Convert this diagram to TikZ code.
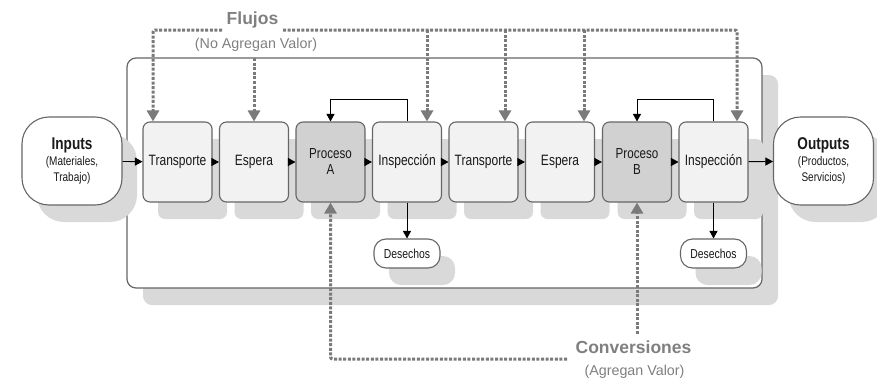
\documentclass[tikz,border=0pt]{standalone}
\usepackage{fontspec}
\setmainfont{Liberation Sans}
\newfontfamily\narrowsans[FakeStretch=0.8]{Liberation Sans}
\usetikzlibrary{arrows.meta,shadows}
\def\fsz#1{\fontsize{#1}{#1}\selectfont}

\tikzset{
	boxshadow/.style={general shadow={fill=black!15, shadow xshift=15pt, shadow yshift=-17pt}},
	stepbox/.style={boxshadow, draw=black!60, line width=1.1pt, fill=black!5, rounded corners=7pt,
		minimum width=69pt, minimum height=80pt, inner sep=0pt, align=center,
		text=black!90, font=\narrowsans\fsz{15}},
	procbox/.style={stepbox, fill=black!18, font=\narrowsans\fontsize{14.5}{16}\selectfont},
	endbox/.style={boxshadow, draw=black!60, line width=1.1pt, fill=white, rounded corners=27pt,
		minimum width=100pt, minimum height=88pt, inner sep=0pt, align=center, text=black!90},
	wastebox/.style={boxshadow, draw=black!60, line width=1.1pt, fill=white, rounded corners=12pt,
		minimum width=66pt, minimum height=29pt, inner sep=0pt, text=black!90, font=\narrowsans\fsz{13}},
	link/.style={draw=black, line width=0.9pt, -{Triangle[length=7.5pt,width=8pt]}},
	flow/.style={draw=black!52, line width=3pt, dash pattern=on 3pt off 1.6pt, rounded corners=2pt,
		-{Triangle[length=11pt,width=12pt]}},
	flowtitle/.style={text=black!50, font=\bfseries\fsz{17.5}, inner sep=0pt},
	flowsub/.style={text=black!50, font=\fsz{14.3}, inner sep=0pt}
}

\begin{document}
\begin{tikzpicture}[x=1pt, y=-1pt]
	%%%%% START %%%%%
	\useasboundingbox[fill=white] (0,0) rectangle (877,383);
	
	% marco del sistema
	\fill[black!15, rounded corners=9pt] (143,75) rectangle (778,305);
	\draw[draw=black!60, line width=1.2pt, fill=white, rounded corners=9pt] (127,58) rectangle (762,288);
	
	% entradas y salidas
	\node[endbox] (inp) at (72,161) {{\narrowsans\bfseries\fsz{17}Inputs}\\[3pt]
		{\narrowsans\fsz{12.5}(Materiales,}\\[4pt]{\narrowsans\fsz{12.5}Trabajo)}};
	\node[endbox] (out) at (823.5,161) {{\narrowsans\bfseries\fsz{17}Outputs}\\[3pt]
		{\narrowsans\fsz{12.5}(Productos,}\\[4pt]{\narrowsans\fsz{12.5}Servicios)}};
	
	% etapas
	\node[stepbox] (tr1) at (177.5,162) {Transporte};
	\node[stepbox] (es1) at (254,162) {Espera};
	\node[procbox] (pa) at (330.5,162) {Proceso\\A};
	\node[stepbox] (in1) at (407,162) {Inspecci\'on};
	\node[stepbox] (tr2) at (483.5,162) {Transporte};
	\node[stepbox] (es2) at (560,162) {Espera};
	\node[procbox] (pb) at (637,162) {Proceso\\B};
	\node[stepbox] (in2) at (713.5,162) {Inspecci\'on};
	
	\node[wastebox] (de1) at (407,253.5) {Desechos};
	\node[wastebox] (de2) at (713.5,253.5) {Desechos};
	
	% flujo principal
	\draw[link] (inp) -- (tr1);
	\draw[link] (tr1) -- (es1);
	\draw[link] (es1) -- (pa);
	\draw[link] (pa) -- (in1);
	\draw[link] (in1) -- (tr2);
	\draw[link] (tr2) -- (es2);
	\draw[link] (es2) -- (pb);
	\draw[link] (pb) -- (in2);
	\draw[link] (in2) -- (out);
	
	\draw[link] (in1.north) -- ++(0,-22) -| (pa.north);
	\draw[link] (in2.north) -- ++(0,-22) -| (pb.north);
	\draw[link] (in1.south) -- (de1.north);
	\draw[link] (in2.south) -- (de2.north);
	
	% flujos (no agregan valor)
	\node[flowtitle] (flujos) at (252.5,20) {Flujos};
	\node[flowsub] (noag) at (256,45) {(No Agregan Valor)};
	\coordinate (fl) at (222,30);
	\coordinate (fr) at (283,30);
	\coordinate (ftop) at (0,58);
	\coordinate (d1) at ([xshift=20pt]in1.north);
	\coordinate (d2) at ([xshift=21.5pt]tr2.north);
	\coordinate (d3) at ([xshift=24pt]es2.north);
	
	\draw[flow] (fl) -| ([xshift=-24.5pt]tr1.north);
	\draw[flow] (fr) -| ([xshift=23.5pt]in2.north);
	\draw[flow] (es1.north |- ftop) -- (es1.north);
	\draw[flow] (d1 |- fr) -- (d1);
	\draw[flow] (d2 |- fr) -- (d2);
	\draw[flow] (d3 |- fr) -- (d3);
	
	% conversiones (agregan valor)
	\node[flowtitle] (conv) at (633.5,347) {Conversiones};
	\node[flowsub] (agv) at (634.5,372) {(Agregan Valor)};
	\coordinate (cl) at (567,359);
	\coordinate (ct) at (637,334);
	\draw[flow] (cl) -| (pa.south);
	\draw[flow] (ct) -- (pb.south);
	
	%%%%% END %%%%%
\end{tikzpicture}
\end{document}
